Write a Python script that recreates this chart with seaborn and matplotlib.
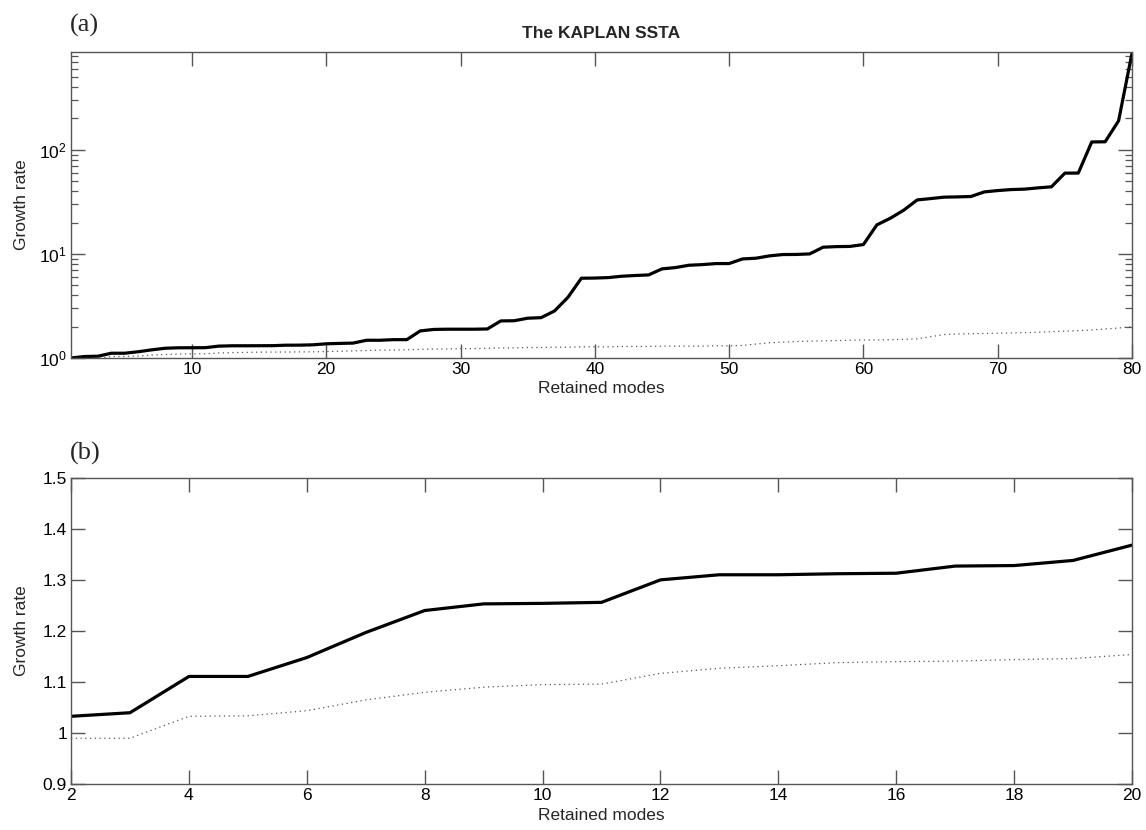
import numpy as np
import pandas as pd
import matplotlib
matplotlib.use("Agg")
import matplotlib.pyplot as plt
import seaborn as sns
from matplotlib.ticker import FixedLocator, FormatStrFormatter, LogLocator, NullLocator

# Growth rate versus number of retained modes
modes = list(range(1, 81))

growth_optimal = [
    1.00, 1.033, 1.040, 1.111, 1.111, 1.148, 1.197, 1.240, 1.253, 1.254,
    1.256, 1.300, 1.310, 1.310, 1.312, 1.313, 1.327, 1.328, 1.338, 1.368,
    1.38, 1.39, 1.48, 1.48, 1.50, 1.50, 1.82, 1.88, 1.89, 1.89,
    1.89, 1.90, 2.27, 2.28, 2.41, 2.44, 2.83, 3.83, 5.84, 5.86,
    5.92, 6.10, 6.20, 6.28, 7.18, 7.39, 7.78, 7.89, 8.07, 8.08,
    8.95, 9.09, 9.57, 9.86, 9.88, 10.0, 11.6, 11.75, 11.8, 12.3,
    19.0, 22.0, 26.3, 33.0, 34.0, 35.1, 35.3, 35.6, 39.4, 40.6,
    41.5, 41.9, 43.1, 44.1, 59.7, 59.8, 119.0, 119.5, 190.0, 850.0,
]

growth_reference = [
    0.99, 0.99, 0.99, 1.033, 1.034, 1.044, 1.065, 1.080, 1.090, 1.095,
    1.096, 1.117, 1.127, 1.132, 1.138, 1.140, 1.141, 1.144, 1.146, 1.154,
    1.16, 1.17, 1.18, 1.19, 1.19, 1.20, 1.21, 1.22, 1.22, 1.23,
    1.23, 1.24, 1.25, 1.25, 1.26, 1.26, 1.27, 1.27, 1.28, 1.28,
    1.28, 1.29, 1.29, 1.29, 1.30, 1.30, 1.30, 1.30, 1.31, 1.31,
    1.32, 1.36, 1.40, 1.42, 1.44, 1.45, 1.46, 1.47, 1.48, 1.49,
    1.49, 1.50, 1.51, 1.53, 1.60, 1.68, 1.70, 1.71, 1.72, 1.73,
    1.74, 1.75, 1.77, 1.79, 1.81, 1.83, 1.86, 1.90, 1.94, 2.00,
]

top_xticks = [10, 20, 30, 40, 50, 60, 70, 80]
bottom_xticks = [2, 4, 6, 8, 10, 12, 14, 16, 18, 20]
bottom_yticks = [0.9, 1.0, 1.1, 1.2, 1.3, 1.4, 1.5]

df = pd.DataFrame({"mode": modes, "optimal": growth_optimal,
                   "reference": growth_reference})
df_zoom = df[(df["mode"] >= 2) & (df["mode"] <= 20)]

sns.set_theme(style="ticks")
plt.rcParams["font.family"] = ["Liberation Sans", "DejaVu Sans"]
plt.rcParams["mathtext.fontset"] = "custom"
plt.rcParams["mathtext.rm"] = "Liberation Sans"
plt.rcParams["mathtext.it"] = "Liberation Sans"

SPINE = "#555555"
DOT = (0, (1, 2.8))
FS = 12.5

fig = plt.figure(figsize=(11.46, 8.30), dpi=100)
ax1 = fig.add_axes([0.062, 0.5687, 0.9258, 0.3686])
ax2 = fig.add_axes([0.062, 0.0551, 0.9258, 0.3694])


def style_axes(ax):
    for s in ax.spines.values():
        s.set_color(SPINE)
        s.set_linewidth(1.0)
    ax.tick_params(which="major", direction="in", length=10, width=1.0,
                   color=SPINE, top=True, right=True, labelsize=FS,
                   labelcolor="black", pad=3)
    ax.tick_params(which="minor", direction="in", length=5, width=0.9,
                   color=SPINE, top=True, right=True)
    ax.set_xlabel("Retained modes", fontsize=FS, labelpad=3)
    ax.set_ylabel("Growth rate", fontsize=FS)


# (a) all retained modes, log scale
sns.lineplot(data=df, x="mode", y="optimal", ax=ax1, color="black",
             linewidth=2.3, estimator=None)
sns.lineplot(data=df, x="mode", y="reference", ax=ax1, color="#555555",
             linewidth=0.9, linestyle=DOT, estimator=None)
ax1.set_yscale("log")
ax1.set_xlim(1, 80)
ax1.set_ylim(1, 870)
ax1.xaxis.set_major_locator(FixedLocator(top_xticks))
ax1.xaxis.set_minor_locator(NullLocator())
ax1.yaxis.set_major_locator(LogLocator(base=10))
ax1.yaxis.set_minor_locator(LogLocator(base=10, subs=np.arange(2, 10)))
style_axes(ax1)
ax1.set_title("The KAPLAN SSTA", fontsize=FS, fontweight="bold", pad=10)
ax1.yaxis.set_label_coords(-0.040, 0.5)

# (b) first twenty modes, linear scale
sns.lineplot(data=df_zoom, x="mode", y="optimal", ax=ax2, color="black",
             linewidth=2.3, estimator=None)
sns.lineplot(data=df_zoom, x="mode", y="reference", ax=ax2, color="#555555",
             linewidth=0.9, linestyle=DOT, estimator=None)
ax2.set_xlim(2, 20)
ax2.set_ylim(0.9, 1.5)
ax2.xaxis.set_major_locator(FixedLocator(bottom_xticks))
ax2.yaxis.set_major_locator(FixedLocator(bottom_yticks))
ax2.yaxis.set_major_formatter(FormatStrFormatter("%g"))
ax2.xaxis.set_minor_locator(NullLocator())
ax2.yaxis.set_minor_locator(NullLocator())
style_axes(ax2)
ax2.yaxis.set_label_coords(-0.040, 0.5)

# panel letters
fig.text(0.061, 0.962, "(a)", family=["Liberation Serif", "DejaVu Serif"],
         fontsize=19, va="baseline", ha="left")
fig.text(0.061, 0.446, "(b)", family=["Liberation Serif", "DejaVu Serif"],
         fontsize=19, va="baseline", ha="left")

fig.savefig("out.png", dpi=100, facecolor="white")
